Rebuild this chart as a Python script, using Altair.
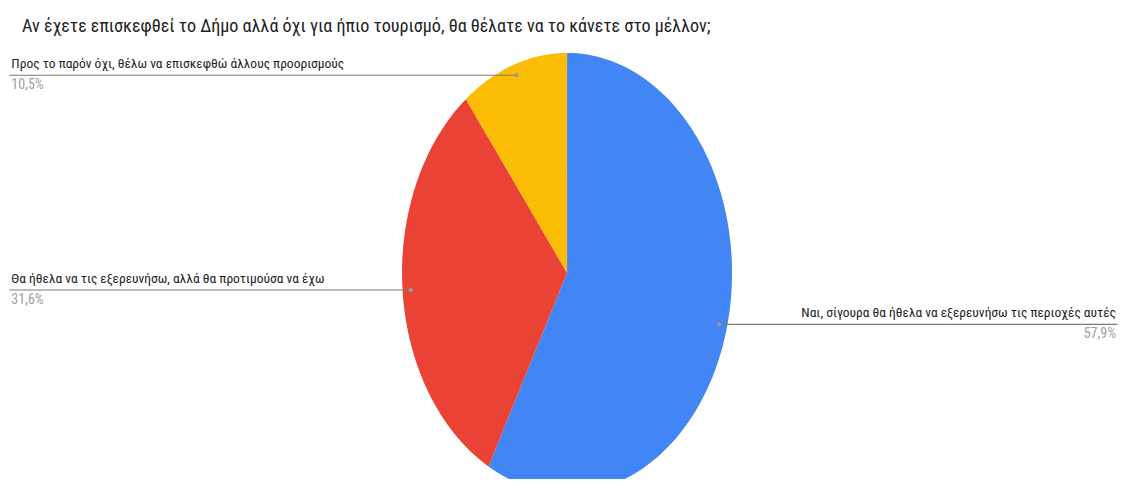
import altair as alt
import pandas as pd

# ---- data ----
categories = [
    "Ναι, σίγουρα θα ήθελα να εξερευνήσω τις περιοχές αυτές",
    "Θα ήθελα να τις εξερευνήσω, αλλά θα προτιμούσα να έχω",
    "Προς το παρόν όχι, θέλω να επισκεφθώ άλλους προορισμούς",
]
values = [57.9, 31.6, 10.5]
colors = ["#4285F4", "#EA4335", "#FBBC04"]
title_text = "Αν έχετε επισκεφθεί το Δήμο αλλά όχι για ήπιο τουρισμό, θα θέλατε να το κάνετε στο μέλλον;"

df = pd.DataFrame({"category": categories, "value": values, "idx": list(range(len(values)))})

# ---- layout (units of pie radius) ----
PLOT_H = 441
XDOM = [-3.388, 3.339]
YMAX = 1.068
YDOM = [YMAX - PLOT_H / 220.0, YMAX]
LEFT_END = -3.380
RIGHT_END = 3.336
N = 120
FONT = "Liberation Sans Narrow, Roboto Condensed, DejaVu Sans Condensed, Roboto, sans-serif"
LFS = 13.5

x_scale = alt.Scale(domain=XDOM, nice=False, zero=False)
y_scale = alt.Scale(domain=YDOM, nice=False, zero=False)
color_scale = alt.Scale(domain=categories, range=colors)

base = (
    alt.Chart(df)
    .transform_joinaggregate(total="sum(value)")
    .transform_window(cum="sum(value)", sort=[alt.SortField("idx")], frame=[None, 0])
    .transform_calculate(a0="2*PI*(datum.cum - datum.value)/datum.total")
    .transform_calculate(a1="2*PI*datum.cum/datum.total")
    .transform_calculate(am="(datum.a0 + datum.a1)/2")
)

slices = (
    base.transform_calculate(k=f"sequence(-1, {N + 1})")
    .transform_flatten(["k"])
    .transform_calculate(ang=f"datum.a0 + (datum.a1 - datum.a0) * max(datum.k, 0) / {N}")
    .transform_calculate(px="datum.k < 0 ? 0 : sin(datum.ang)", py="datum.k < 0 ? 0 : cos(datum.ang)")
    .mark_line(interpolate="linear-closed", strokeWidth=0, clip=True)
    .encode(
        x=alt.X("px:Q", scale=x_scale, axis=None),
        y=alt.Y("py:Q", scale=y_scale, axis=None),
        fill=alt.Fill("category:N", scale=color_scale, legend=None),
        detail="category:N",
        order="k:Q",
    )
)

lab = (
    base.transform_calculate(lx="0.95*sin(datum.am)", ly="0.95*cos(datum.am)")
    .transform_calculate(side="sin(datum.am) < 0 ? -1 : 1")
    .transform_calculate(ex=f"datum.side < 0 ? {LEFT_END} : {RIGHT_END}")
    .transform_calculate(pct="replace(format(datum.value/datum.total, '.1%'), '.', ',')")
)

X = lambda f: alt.X(f, type="quantitative", scale=x_scale, axis=None)
Y = lambda f: alt.Y(f, type="quantitative", scale=y_scale, axis=None)

rules = lab.mark_rule(color="#7a7a7a", strokeWidth=1.2).encode(x=X("lx"), x2="ex:Q", y=Y("ly"))
dots = lab.mark_circle(size=18, color="#999999", opacity=1).encode(x=X("lx"), y=Y("ly"))

left = lab.transform_filter("datum.side < 0")
right = lab.transform_filter("datum.side > 0")

left_lbl = left.mark_text(align="left", baseline="alphabetic", dx=2, dy=-7, font=FONT, fontSize=LFS, color="#222222").encode(
    x=X("ex"), y=Y("ly"), text="category:N")
left_pct = left.mark_text(align="left", baseline="top", dx=2, dy=3, font=FONT, fontSize=LFS + 0.5, color="#9e9e9e").encode(
    x=X("ex"), y=Y("ly"), text="pct:N")
right_lbl = right.mark_text(align="right", baseline="alphabetic", dx=-1.5, dy=-7, font=FONT, fontSize=LFS, color="#222222").encode(
    x=X("ex"), y=Y("ly"), text="category:N")
right_pct = right.mark_text(align="right", baseline="top", dx=-1.5, dy=3, font=FONT, fontSize=LFS + 0.5, color="#9e9e9e").encode(
    x=X("ex"), y=Y("ly"), text="pct:N")

chart = (
    alt.layer(slices, rules, dots, left_lbl, left_pct, right_lbl, right_pct)
    .properties(
        width=1110,
        height=PLOT_H,
        padding={"left": 0, "right": 0, "top": 30, "bottom": 0},
        autosize="none",
        title=alt.TitleParams(
            text=title_text, anchor="start", dx=14, offset=-12, baseline="alphabetic",
            font=FONT, fontSize=18.1, fontWeight="normal", color="#222222",
        ),
    )
    .configure_view(stroke=None)
)

chart.save("out.html", embed_options={"renderer": "svg", "actions": False})
